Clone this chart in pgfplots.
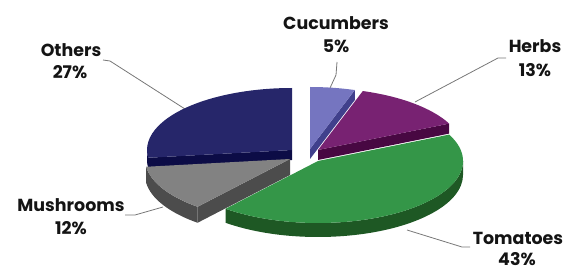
\documentclass[border=0pt]{standalone}
\usepackage{fontspec}
\setmainfont{Poppins}
\usepackage{pgfplots}
\usepackage{pgfplotstable}
\pgfplotsset{compat=1.18}

\definecolor{cucTop}{RGB}{117,117,192}
\definecolor{cucSide}{RGB}{64,64,140}
\definecolor{herTop}{RGB}{120,34,114}
\definecolor{herSide}{RGB}{72,8,66}
\definecolor{tomTop}{RGB}{52,150,72}
\definecolor{tomSide}{RGB}{30,88,36}
\definecolor{musTop}{RGB}{130,130,130}
\definecolor{musSide}{RGB}{76,76,76}
\definecolor{othTop}{RGB}{38,38,106}
\definecolor{othSide}{RGB}{12,12,70}
\definecolor{leader}{RGB}{120,120,120}
\definecolor{lblcol}{RGB}{20,20,20}

\tikzset{pielabel/.style={anchor=base, text=lblcol, font=\fontsize{17.5}{22}\selectfont\bfseries}}

% slices clockwise from 12 o'clock; vx,vy = apex of the (exploded) slice in pixels
\pgfplotstableread{
tag slice percent vx vy depth
C Cucumbers 5 310 149 10
H Herbs 13 318 150 10
T Tomatoes 43 318 161 14
M Mushrooms 12 290 159 16
O Others 27 292 150 10
}\piedata

\def\rx{145}
\def\ry{62}
\def\pich{271}
\def\cumsum{0}

\newcommand\readslice[1]{%
  \pgfplotstablegetelem{#1}{tag}\of\piedata \edef\tg{\pgfplotsretval}%
  \pgfplotstablegetelem{#1}{percent}\of\piedata \edef\pc{\pgfplotsretval}%
  \pgfplotstablegetelem{#1}{vx}\of\piedata \edef\vxv{\pgfplotsretval}%
  \pgfplotstablegetelem{#1}{vy}\of\piedata \edef\vyv{\pgfplotsretval}%
  \pgfplotstablegetelem{#1}{depth}\of\piedata \edef\dv{\pgfplotsretval}%
  \pgfmathsetmacro\tsv{90-3.6*\cumsum}%
  \pgfmathsetmacro\newcum{\cumsum+\pc}%
  \pgfmathsetmacro\tev{90-3.6*\newcum}%
  \pgfmathsetmacro\yv{\pich-\vyv}%
  \pgfmathsetmacro\ydv{\pich-\vyv-\dv}%
  \xdef\cumsum{\newcum}%
  \expandafter\xdef\csname\tg ts\endcsname{\tsv}%
  \expandafter\xdef\csname\tg te\endcsname{\tev}%
  \expandafter\xdef\csname\tg vx\endcsname{\vxv}%
  \expandafter\xdef\csname\tg y\endcsname{\yv}%
  \expandafter\xdef\csname\tg yd\endcsname{\ydv}%
  \expandafter\xdef\csname\tg d\endcsname{\dv}%
}

\newcommand\slicetop[2]{%
  \fill[#2] (axis cs:\csname#1vx\endcsname,\csname#1y\endcsname)
    -- ++(\csname#1ts\endcsname:\rx bp and \ry bp)
    arc[start angle=\csname#1ts\endcsname,end angle=\csname#1te\endcsname,x radius=\rx bp,y radius=\ry bp]
    -- cycle;}
\newcommand\radwall[3]{%
  \fill[#3] (axis cs:\csname#1vx\endcsname,\csname#1y\endcsname)
    -- ++(#2:\rx bp and \ry bp) -- ++(0bp,-\csname#1d\endcsname bp)
    -- (axis cs:\csname#1vx\endcsname,\csname#1yd\endcsname) -- cycle;}
\newcommand\outerwall[4]{%
  \fill[#4] (axis cs:\csname#1vx\endcsname,\csname#1y\endcsname) ++(#2:\rx bp and \ry bp)
    arc[start angle=#2,end angle=#3,x radius=\rx bp,y radius=\ry bp]
    -- ++(0bp,-\csname#1d\endcsname bp)
    arc[start angle=#3,end angle=#2,x radius=\rx bp,y radius=\ry bp] -- cycle;}

\begin{document}
\begin{tikzpicture}
\readslice{0}\readslice{1}\readslice{2}\readslice{3}\readslice{4}
\begin{axis}[
  width=569bp, height=271bp, scale only axis,
  xmin=0, xmax=569, ymin=0, ymax=271,
  enlargelimits=false, hide axis, clip=false,
]
\path (axis cs:0,0) rectangle (axis cs:569,271);
% leader lines
\draw[leader, line width=0.8bp] (axis cs:337,209) -- (axis cs:336,196) -- (axis cs:330,183);
\draw[leader, line width=0.8bp] (axis cs:506,213) -- (axis cs:498,213) -- (axis cs:415,169);
\draw[leader, line width=0.8bp] (axis cs:103,211) -- (axis cs:110,210) -- (axis cs:185,162);
\draw[leader, line width=0.8bp] (axis cs:125,56) -- (axis cs:135,56) -- (axis cs:163,64);
\draw[leader, line width=0.8bp] (axis cs:407,41) -- (axis cs:462,24) -- (axis cs:470,24);
% Others
\outerwall{O}{\Ots}{-180}{othSide}
\radwall{O}{\Ots}{othSide}
\slicetop{O}{othTop}
% Cucumbers
\radwall{C}{\Cte}{cucSide}
\slicetop{C}{cucTop}
% Herbs
\radwall{H}{\Hte}{herSide}
\slicetop{H}{herTop}
% Mushrooms
\outerwall{M}{\Mts}{\Mte}{musSide}
\radwall{M}{\Mts}{musSide}
\slicetop{M}{musTop}
% Tomatoes
\outerwall{T}{0}{\Tte}{tomSide}
\slicetop{T}{tomTop}
% labels
\node[pielabel] at (axis cs:336,241) {Cucumbers};
\node[pielabel] at (axis cs:336,218) {5\%};
\node[pielabel] at (axis cs:535,218) {Herbs};
\node[pielabel] at (axis cs:535,194) {13\%};
\node[pielabel] at (axis cs:71,214) {Others};
\node[pielabel] at (axis cs:70,192) {27\%};
\node[pielabel] at (axis cs:71,59) {Mushrooms};
\node[pielabel] at (axis cs:71,36) {12\%};
\node[pielabel] at (axis cs:518,27) {Tomatoes};
\node[pielabel] at (axis cs:517,6) {43\%};
\end{axis}
\end{tikzpicture}
\end{document}
